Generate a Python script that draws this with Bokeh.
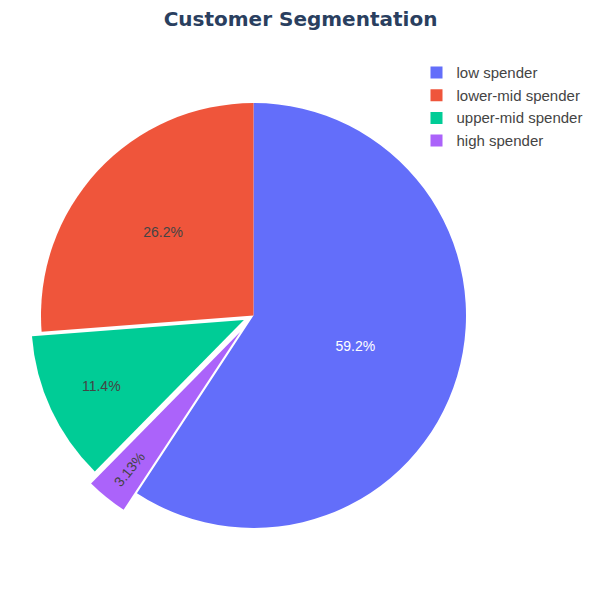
import math
from bokeh.plotting import figure
from bokeh.models import Range1d, ColumnDataSource
from bokeh.core.properties import value
from bokeh.embed import file_html
from bokeh.resources import INLINE

# ---- data ----
categories = ["low spender", "lower-mid spender", "upper-mid spender", "high spender"]
shares = [59.2, 26.2, 11.4, 3.13]
label_texts = ["59.2%", "26.2%", "11.4%", "3.13%"]
colors = ["#636efa", "#EF553B", "#00cc96", "#ab63fa"]

# ---- layout/style ----
pulls = [0.0, 0.0, 0.05, 0.1]
label_r = [0.5, 0.58, 0.74, 0.83]
label_colors = ["#ffffff", "#444444", "#444444", "#444444"]

H = 600
cx, cy = 253, H - 315
R = 212.5

p = figure(width=584, height=584, output_backend="svg", toolbar_location=None,
           x_range=Range1d(0, 584), y_range=Range1d(16, 600), min_border=0)
p.axis.visible = False
p.grid.visible = False
p.outline_line_color = None
p.background_fill_color = "white"
p.border_fill_color = "white"

total = sum(shares)
fr = [v / total for v in shares]
theta = math.pi / 2 - 2 * math.pi * fr[0]
xs, ys, starts, ends = [], [], [], []
lx, ly, la = [], [], []
for i, f in enumerate(fr):
    s = theta
    e = theta + 2 * math.pi * f
    mid = (s + e) / 2
    ox = cx + pulls[i] * R * math.cos(mid)
    oy = cy + pulls[i] * R * math.sin(mid)
    xs.append(ox); ys.append(oy); starts.append(s); ends.append(e)
    lx.append(ox + label_r[i] * R * math.cos(mid))
    ly.append(oy + label_r[i] * R * math.sin(mid))
    if f < 0.05:
        a = mid - math.pi if math.cos(mid) < 0 else mid
        la.append(a)
    else:
        la.append(0.0)
    theta = e

src = ColumnDataSource(dict(x=xs, y=ys, s=starts, e=ends, c=colors))
p.wedge(x="x", y="y", radius=R, start_angle="s", end_angle="e", fill_color="c",
        line_color=None, source=src)

lsrc = ColumnDataSource(dict(x=lx, y=ly, t=label_texts, c=label_colors, a=la))
p.text(x="x", y="y", text="t", text_color="c", angle="a", source=lsrc,
       text_align="center", text_baseline="middle", text_font_size="14px",
       text_font=value("Liberation Sans"))

# title
p.text(x=[300], y=[H - 18.5], text=["Customer Segmentation"], text_align="center",
       text_baseline="middle", text_font_size="20px", text_font_style="bold",
       text_color="#2a3f5f", text_font=value("DejaVu Sans"))

# legend
rows = [H - (72 + i * 22.7) for i in range(len(categories))]
p.rect(x=[436] * len(categories), y=rows, width=12, height=12, fill_color=colors,
       line_color=None)
p.text(x=[456] * len(categories), y=rows, text=categories, text_align="left",
       text_baseline="middle", text_font_size="15px", text_color="#444444",
       text_font=value("Liberation Sans"))

open("out.html", "w").write(file_html(p, INLINE))
